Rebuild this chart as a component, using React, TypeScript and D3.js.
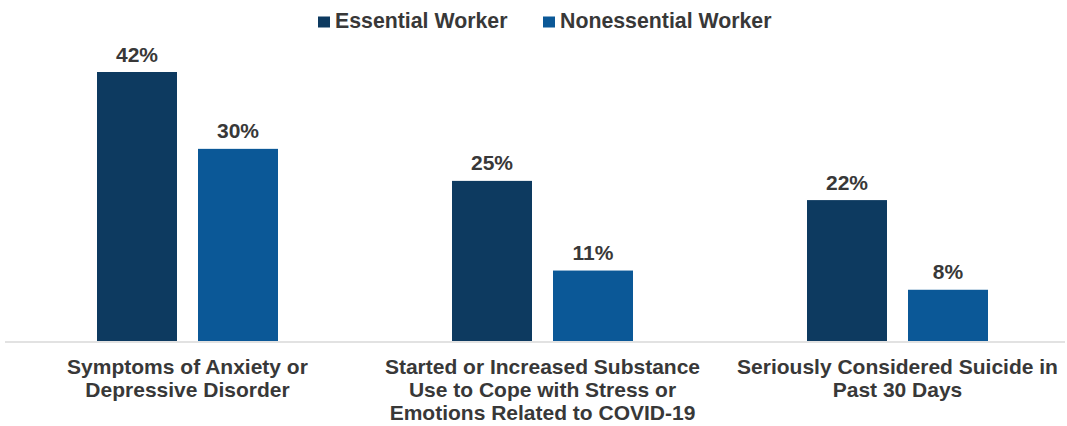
import React from "react";
import * as d3 from "d3";

const categories: string[][] = [
  ["Symptoms of Anxiety or", "Depressive Disorder"],
  ["Started or Increased Substance", "Use to Cope with Stress or", "Emotions Related to COVID-19"],
  ["Seriously Considered Suicide in", "Past 30 Days"],
];
const seriesNames = ["Essential Worker", "Nonessential Worker"];
const essential = [42, 25, 22];
const nonessential = [30, 11, 8];
const colors = ["#0d3a60", "#0b5897"];

const W = 1067;
const H = 426;
const FONT = "'Liberation Sans', Arial, sans-serif";
const TEXT = "#383838";

export default function App() {
  const values = [essential, nonessential];
  const x0 = d3.scaleBand<number>().domain(d3.range(categories.length)).range([10, 1075]).padding(0);
  const x1 = d3
    .scaleBand<string>()
    .domain(seriesNames)
    .range([87, 268])
    .paddingInner(0.208)
    .paddingOuter(0);
  const y = d3.scaleLinear().domain([0, 42]).range([341, 72]);

  const legend = [
    { sx: 318, tx: 335, name: seriesNames[0] },
    { sx: 543, tx: 560, name: seriesNames[1] },
  ];

  return (
    <svg
      width={W}
      height={H}
      style={{ position: "absolute", left: 0, top: 0, background: "#fff" }}
      fontFamily={FONT}
    >
      <rect x={0} y={0} width={W} height={H} fill="#fff" />
      {/* legend */}
      {legend.map((l, i) => (
        <g key={l.name}>
          <rect x={l.sx} y={16.5} width={12} height={11} fill={colors[i]} />
          <text x={l.tx} y={28} fontSize={21.3} fontWeight="bold" fill={TEXT}>
            {l.name}
          </text>
        </g>
      ))}
      {/* baseline */}
      <line x1={5} x2={1065} y1={y(0) + 1} y2={y(0) + 1} stroke="#d9d9d9" strokeWidth={1.5} />
      {categories.map((lines, ci) => (
        <g key={ci} transform={`translate(${x0(ci)},0)`}>
          {seriesNames.map((s, si) => {
            const v = values[si][ci];
            const bx = x1(s)!;
            return (
              <g key={s}>
                <rect x={bx} y={y(v)} width={x1.bandwidth()} height={y(0) - y(v)} fill={colors[si]} />
                <text
                  x={bx + x1.bandwidth() / 2}
                  y={y(v) - 10.5}
                  textAnchor="middle"
                  fontSize={21}
                  fontWeight="bold"
                  fill={TEXT}
                >
                  {v}%
                </text>
              </g>
            );
          })}
          {lines.map((t, li) => (
            <text
              key={li}
              x={x0.bandwidth() / 2}
              y={374 + li * 23}
              textAnchor="middle"
              fontSize={21}
              fontWeight="bold"
              fill={TEXT}
            >
              {t}
            </text>
          ))}
        </g>
      ))}
    </svg>
  );
}
